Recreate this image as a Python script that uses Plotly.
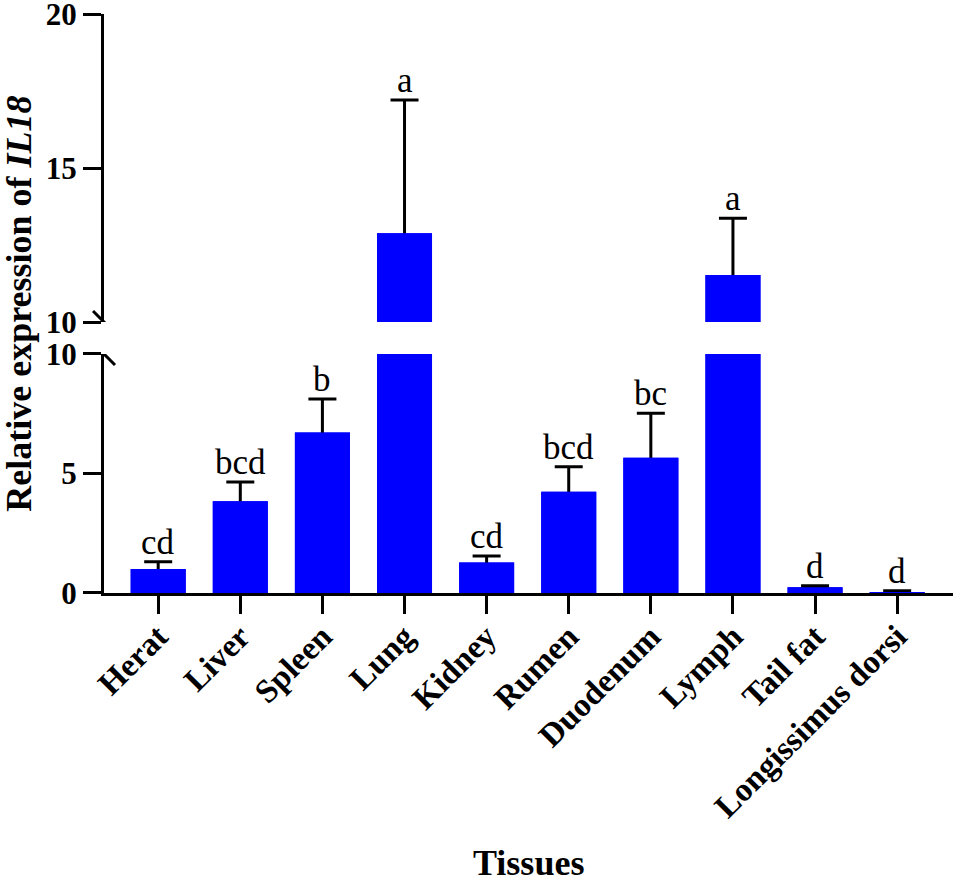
import plotly.graph_objects as go

# Relative expression of IL18 across tissues (broken y axis: 0-10 and 10-20)
tissues = ["Herat", "Liver", "Spleen", "Lung", "Kidney", "Rumen",
           "Duodenum", "Lymph", "Tail fat", "Longissimus dorsi"]
expression = [1.0, 3.84, 6.72, 12.88, 1.28, 4.24, 5.66, 11.53, 0.24, 0.04]
sd = [0.31, 0.80, 1.40, 4.33, 0.27, 1.04, 1.86, 1.84, 0.06, 0.05]
letters = ["cd", "bcd", "b", "a", "cd", "bcd", "bc", "a", "d", "d"]

BREAK = 10
FONT = "Liberation Serif"
BLUE = "#0000FF"

fig = go.Figure()
for yax in ["y", "y2"]:
    # bars with error bars, then the same bars again on top so only the
    # upper half of each error bar stays visible
    fig.add_trace(go.Bar(
        x=tissues, y=expression, yaxis=yax,
        marker=dict(color=BLUE, line=dict(width=0)), width=0.67,
        error_y=dict(type="data", array=sd, color="black", thickness=3, width=14),
        showlegend=False, hoverinfo="skip",
    ))
    fig.add_trace(go.Bar(
        x=tissues, y=expression, yaxis=yax,
        marker=dict(color=BLUE, line=dict(width=0)), width=0.67,
        showlegend=False,
    ))

# significance letters above the error bars
for t, v, e, lab in zip(tissues, expression, sd, letters):
    top = v + e
    fig.add_annotation(x=t, y=top, yref="y2" if top > BREAK else "y",
                       text=lab, showarrow=False, yanchor="bottom", yshift=-2,
                       font=dict(family=FONT, size=35, color="black"))

axis_common = dict(showline=True, linecolor="black", linewidth=3,
                   ticks="outside", ticklen=18, tickwidth=3, tickcolor="black",
                   showgrid=False, zeroline=False, automargin=False,
                   ticklabeloverflow="allow")
tick_font = dict(family=FONT, size=31, color="black", weight="bold")

fig.update_layout(
    width=957, height=878, autosize=False,
    margin=dict(l=104, r=4, t=14, b=285),
    plot_bgcolor="white", paper_bgcolor="white",
    barmode="overlay",
    xaxis=dict(range=[-0.66, 9.68], anchor="y", tickangle=-45,
               ticklabelstandoff=-10,
               tickfont=dict(tick_font, size=33), **axis_common),
    yaxis=dict(domain=[0, 0.4128], range=[0, BREAK], tickvals=[0, 5, 10],
               anchor="x", tickfont=tick_font, **axis_common),
    yaxis2=dict(domain=[0.468, 1], range=[BREAK, 20], tickvals=[10, 15, 20],
                anchor="x", tickfont=tick_font, **axis_common),
)

# axis break marks
for yref in ["y", "y2"]:
    fig.add_shape(type="line", xref="paper", yref=yref,
                  xsizemode="pixel", xanchor=0, x0=-11, x1=11,
                  ysizemode="pixel", yanchor=BREAK, y0=11, y1=-11,
                  line=dict(color="black", width=3))

fig.add_annotation(text="<b>Relative expression of <i>IL18</i></b>",
                   xref="paper", yref="paper", x=-0.101, y=0.5,
                   xanchor="center", yanchor="middle",
                   textangle=-90, showarrow=False,
                   font=dict(family=FONT, size=36, color="black"))
fig.add_annotation(text="<b>Tissues</b>", xref="paper", yref="paper",
                   x=0.5, y=-0.467, xanchor="center", yanchor="middle",
                   showarrow=False,
                   font=dict(family=FONT, size=36, color="black"))

# drop the default 8px page margin so the figure fills the window exactly
fig.write_html("out.html", config={"displayModeBar": False},
               post_script="document.body.style.margin = '0';")
